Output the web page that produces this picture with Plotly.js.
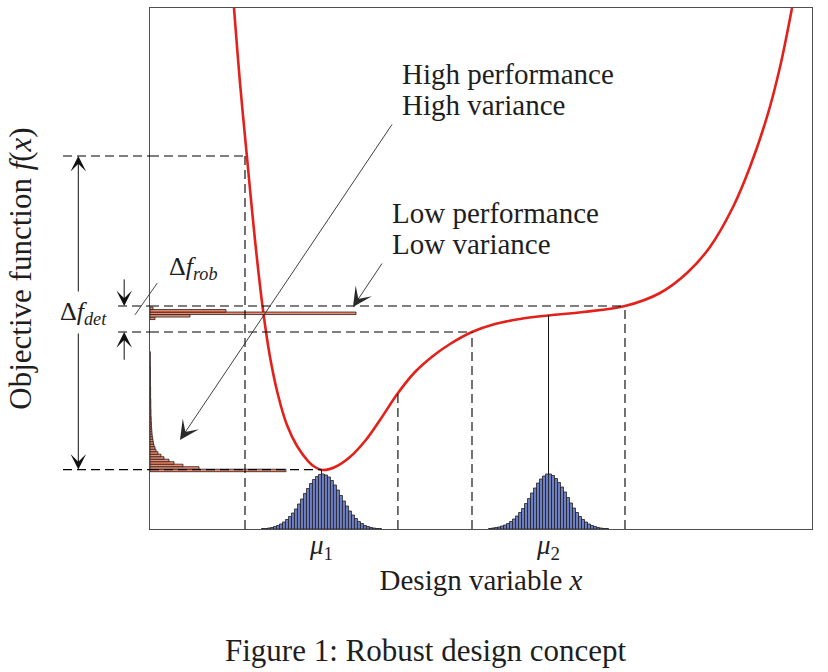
<!DOCTYPE html>
<html>
<head>
<meta charset="utf-8">
<script src="https://cdn.plot.ly/plotly-3.0.1.min.js"></script>
<style>html,body{margin:0;padding:0;background:#fff;}#chart{width:828px;height:672px;}</style>
</head>
<body>
<div id="chart"></div>
<script>
// ---- data ----
const curveX = [1.269, 1.360, 1.465, 1.586, 1.707, 1.813, 1.934, 2.069, 2.221, 2.387, 2.492, 2.598, 2.795, 3.021, 3.248, 3.474, 3.746, 4.003, 4.275, 4.532, 4.864, 5.211, 5.589, 6.012, 6.541, 7.175, 7.704, 8.112, 8.459, 8.807, 9.063, 9.320, 9.517, 9.698];
const curveY = [10.0, 8.56, 7.14, 5.547, 4.203, 3.301, 2.572, 1.996, 1.593, 1.305, 1.190, 1.132, 1.190, 1.382, 1.689, 2.092, 2.610, 3.013, 3.321, 3.551, 3.781, 3.935, 4.031, 4.098, 4.165, 4.280, 4.530, 4.914, 5.413, 6.180, 6.948, 7.908, 8.868, 10.0];

const muValues = [2.59, 6.02];
const muLabels = ['<i>μ</i><sub>1</sub>', '<i>μ</i><sub>2</sub>'];
const fAtMu = [1.13, 4.10];

const boundX = [1.435, 3.745, 4.864, 7.175];
const boundF = [7.16, 2.63, 3.78, 4.28];
const levelF = [7.16, 4.28, 3.78, 1.14];
const levelLeftPaper = [-0.1314, -0.0483, -0.0483, -0.1314];
const levelRightX = [1.435, 7.175, 4.864, 2.59];

// design-variable histograms (counts per bin)
const histBinWidth = 0.0453;
const hist1Counts = [1, 1, 2, 3, 5, 7, 10, 14, 19, 25, 32, 40, 50, 60, 71, 81, 91, 99, 105, 109, 110, 108, 104, 97, 88, 78, 67, 56, 46, 36, 28, 21, 15, 11, 7, 5, 3, 2, 1, 1];
const hist2Counts = [1, 2, 3, 4, 6, 8, 11, 15, 20, 26, 33, 41, 51, 61, 72, 82, 92, 100, 106, 110, 110, 107, 101, 93, 84, 74, 63, 52, 42, 33, 25, 19, 14, 10, 7, 5, 3, 2, 1, 1];
const histCountMax = 1042;

// objective-function histograms (counts per bin)
const fBinWidth = 0.048;
const fDetStart = 1.10;
const fRobStart = 4.02;
const fDetCounts = [680, 245, 165, 120, 95, 70, 55, 40, 30, 25, 20, 17, 15, 13, 11, 10, 9, 8, 7, 7, 6, 6, 5, 5, 5, 4, 4, 4, 4, 3, 3, 3, 3, 3, 2, 2, 2, 2, 2, 2, 2, 2, 1, 1, 1, 1, 1, 1];
const fRobCounts = [25, 200, 1030, 380, 15];
const fCountMax = 3310;

// ---- build traces ----
const FONT = '"Liberation Serif", "Times New Roman", serif';
const TXT = '#1e1e1e';

function binCenters(start, w, n) { return Array.from({length: n}, (_, i) => start + (i + 0.5) * w); }
function histXs(mu, w, n) { return Array.from({length: n}, (_, i) => mu + (i - (n - 1) / 2) * w); }
function bl() { return {color: '#1f1f1f', width: 0.8}; }

const traces = [
  {type: 'bar', orientation: 'h', x: fDetCounts, y: binCenters(fDetStart, fBinWidth, fDetCounts.length), width: fBinWidth,
   xaxis: 'x2', yaxis: 'y', marker: {color: '#F58A6C', line: bl()}},
  {type: 'bar', orientation: 'h', x: fRobCounts, y: binCenters(fRobStart, fBinWidth, fRobCounts.length), width: fBinWidth,
   xaxis: 'x2', yaxis: 'y', marker: {color: '#F58A6C', line: bl()}},
  {type: 'bar', x: histXs(muValues[0], histBinWidth, hist1Counts.length), y: hist1Counts, width: histBinWidth,
   xaxis: 'x', yaxis: 'y2', marker: {color: '#6F7FC4', line: bl()}},
  {type: 'bar', x: histXs(muValues[1], histBinWidth, hist2Counts.length), y: hist2Counts, width: histBinWidth,
   xaxis: 'x', yaxis: 'y2', marker: {color: '#6F7FC4', line: bl()}},
  {type: 'scatter', mode: 'lines', x: curveX, y: curveY, xaxis: 'x', yaxis: 'y',
   line: {color: '#E3211B', width: 2.6, shape: 'spline', smoothing: 1}}
];

// ---- shapes ----
const DL = {color: '#000', width: 1.1, dash: '9px,5px'};
const shapes = [];
boundX.forEach((bx, i) => {
  shapes.push({type: 'line', xref: 'x', yref: 'y', x0: bx, x1: bx, y0: 0, y1: boundF[i], line: DL});
});
levelF.forEach((lf, i) => {
  shapes.push({type: 'line', xref: 'paper', yref: 'y', x0: levelLeftPaper[i], x1: 0, y0: lf, y1: lf, line: DL});
  shapes.push({type: 'line', xref: 'x', yref: 'y', x0: 0, x1: levelRightX[i], y0: lf, y1: lf, line: DL});
});
const histTopY = Math.max(...hist2Counts) / histCountMax * 10;
muValues.forEach((m, i) => {
  shapes.push({type: 'line', xref: 'x', yref: 'y', x0: m, x1: m, y0: histTopY, y1: fAtMu[i], line: {color: '#111', width: 1}});
});
shapes.push({type: 'line', xref: 'paper', yref: 'y', x0: -0.0227, y0: 4.11, x1: 0.011, y1: 4.72, line: {color: '#333', width: 0.9}});

// ---- annotations ----
const ann = [];
function arrow(x, y, ay) {
  return {xref: 'paper', yref: 'y', x: x, y: y, axref: 'pixel', ayref: 'y', ax: 0, ay: ay, text: '', showarrow: true,
          arrowhead: 3, arrowsize: 2.6, arrowwidth: 1, arrowcolor: '#111'};
}
ann.push(arrow(-0.1083, 7.16, 4.53));
ann.push(arrow(-0.1083, 1.14, 3.78));
ann.push(arrow(-0.039, 4.28, 4.82));
ann.push(arrow(-0.039, 3.78, 3.22));
ann.push({xref: 'x', yref: 'y', x: 0.453, y: 1.708, axref: 'x', ayref: 'y', ax: 3.671, ay: 7.793, text: '', showarrow: true,
          arrowhead: 3, arrowsize: 3.6, arrowwidth: 0.9, arrowcolor: '#2a2a2a'});
ann.push({xref: 'x', yref: 'y', x: 3.066, y: 4.261, axref: 'x', ayref: 'y', ax: 3.52, ay: 5.125, text: '', showarrow: true,
          arrowhead: 3, arrowsize: 3.6, arrowwidth: 0.9, arrowcolor: '#2a2a2a'});

function label(xref, x, y, text, size, xanchor) {
  return {xref: xref, yref: 'y', x: x, y: y, text: text, showarrow: false, xanchor: xanchor || 'center', yanchor: 'middle',
          font: {family: FONT, size: size, color: TXT}};
}
ann.push(label('x', 3.776, 8.733, 'High performance', 29, 'left'));
ann.push(label('x', 3.776, 8.138, 'High variance', 29, 'left'));
ann.push(label('x', 3.625, 6.065, 'Low performance', 29, 'left'));
ann.push(label('x', 3.625, 5.47, 'Low variance', 29, 'left'));
ann.push(label('x', 0.65, 5.01, 'Δ<i>f</i><sub><i>rob</i></sub>', 26));
ann.push(label('paper', -0.101, 4.146, 'Δ<i>f</i><sub><i>det</i></sub>', 26));
ann.push({xref: 'paper', yref: 'paper', x: 0.417, y: -0.234, text: 'Figure 1: Robust design concept', showarrow: false,
          xanchor: 'center', yanchor: 'middle', font: {family: FONT, size: 31, color: TXT}});

const layout = {
  width: 828, height: 672,
  margin: {l: 150, r: 16, t: 8, b: 143},
  paper_bgcolor: '#fff', plot_bgcolor: '#fff',
  showlegend: false, barmode: 'overlay', bargap: 0,
  font: {family: FONT, color: TXT},
  xaxis: {range: [0, 10], showline: true, mirror: true, linecolor: '#505050', linewidth: 1, showgrid: false, zeroline: false,
          ticks: '', tickvals: muValues, ticktext: muLabels, tickfont: {family: FONT, size: 27, color: TXT}, ticklabelstandoff: -8,
          title: {text: 'Design variable <i>x</i>', font: {family: FONT, size: 29, color: TXT}, standoff: 0}},
  yaxis: {range: [0, 10], showline: true, mirror: true, linecolor: '#505050', linewidth: 1, showgrid: false, zeroline: false,
          ticks: '', showticklabels: false,
          title: {text: 'Objective function <i>f</i>(<i>x</i>)', font: {family: FONT, size: 31, color: TXT}, standoff: 108}},
  xaxis2: {overlaying: 'x', range: [0, fCountMax], showgrid: false, zeroline: false, showticklabels: false, ticks: '', showline: false, anchor: 'y'},
  yaxis2: {overlaying: 'y', range: [0, histCountMax], showgrid: false, zeroline: false, showticklabels: false, ticks: '', showline: false, anchor: 'x'},
  shapes: shapes,
  annotations: ann
};

Plotly.newPlot('chart', traces, layout, {displayModeBar: false, staticPlot: true});
</script>
</body>
</html>
